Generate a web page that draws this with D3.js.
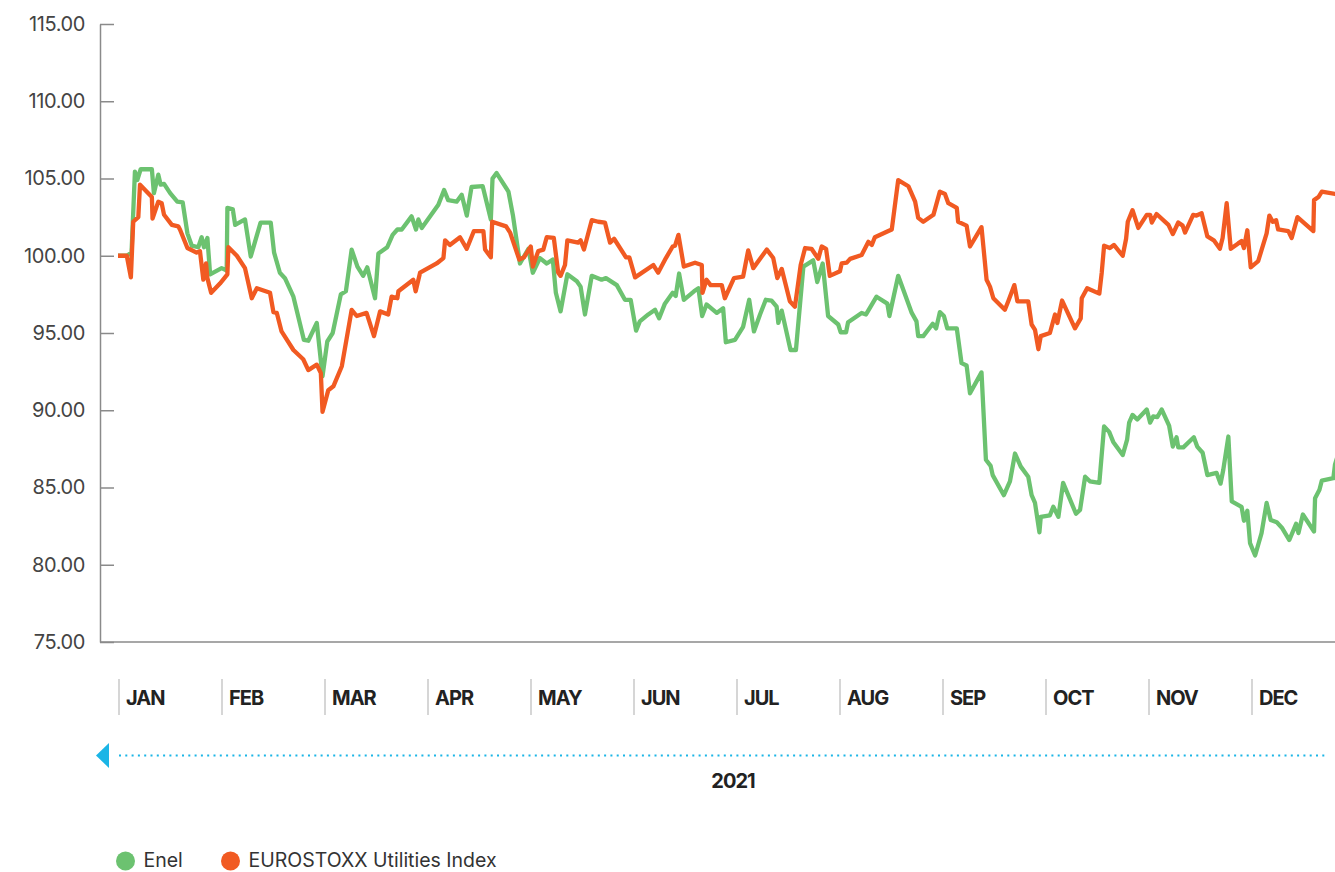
<!DOCTYPE html>
<html>
<head>
<meta charset="utf-8">
<script src="https://cdn.jsdelivr.net/npm/d3@7"></script>
<style>
  body { margin: 0; background: #fff; }
  text { font-family: Inter, "Noto Sans", sans-serif; }
</style>
</head>
<body>
<div id="chart"></div>
<script>
// months shown under the chart
var months = ["JAN","FEB","MAR","APR","MAY","JUN","JUL","AUG","SEP","OCT","NOV","DEC"]
var yTicks = [75,80,85,90,95,100,105,110,115]
var yearLabel = "2021"

// Enel, rebased to 100 (day of year, value)
var enelDays = [0,2.6,4,5,5.7,6.7,10,10.6,11.9,12.6,13.6,15.4,17.5,19.1,20.5,21.8,23.7,24.7,25.4,26.4,27.2,30.6,32.1,32.3,33.9,34.6,37.5,39.2,42.1,45.1,46.1,47.8,49.3,51.8,54.9,56.2,58.7,60.4,61.8,63.4,65.8,67.3,69,70.7,72.4,73.6,75.9,76.9,79.5,81.1,82.5,83.8,86.7,88,88.7,89.7,94.6,96.3,97.5,100,101.5,103,104.4,107.7,110.1,110.6,111.8,115.3,116.6,118.7,121.2,122.5,124.6,126.6,128.4,129.3,130.7,132.7,135.5,136.6,137.9,139.9,142.8,144.1,147.3,149.7,151.4,153,154.1,156.6,158.6,159.8,161.5,163.8,164.7,165.7,167.1,170.1,171.4,172.5,173.8,176.8,178.7,179.5,182.2,184.6,186.4,187.8,189.6,191.3,193,194.5,195,196,198.6,200.2,202.4,205.3,206.5,208.1,209.7,212.7,213.4,215,215.6,219.6,220.9,224,227.2,227.8,230.4,234.4,235.8,236.3,237.8,240.6,241.6,242.7,243.9,244.9,247.7,249.1,250.6,251.6,255,256.3,257.7,258.3,261.6,263.4,264.9,266.6,268.8,269.8,270.8,272.1,272.5,275.2,276.2,277.7,279.1,282.9,284.1,285.6,287,289.8,291.2,292.7,293.9,296.7,298,298.6,299.6,301,303.8,304.8,305.7,306.9,308.2,310.4,311.5,312.6,313.1,314.6,317.7,318.7,320.3,321.7,324.4,325.6,326.4,327.9,328.9,331.8,332.5,333.5,334.3,335.8,337.7,339.2,340.4,342.2,343.7,345.9,347.9,348.6,349.9,353.2,353.5,354.8,355.5,358.9,359.4,361]
var enelValues = [100,100,100.2,105.45,104.9,105.6,105.6,104.05,105.25,104.6,104.65,104.05,103.5,103.45,101.45,100.65,100.55,101.2,100.55,101.15,98.8,99.2,99.05,103.1,103,102,102.35,99.95,102.15,102.15,100.2,98.9,98.55,97.35,94.55,94.5,95.65,92.2,94.45,95,97.5,97.7,100.4,99.3,98.7,99.25,97.25,100.15,100.55,101.35,101.7,101.7,102.55,101.7,102.35,101.8,103.3,104.25,103.6,103.5,103.95,102.6,104.45,104.5,102.35,105,105.35,104.15,102.65,99.5,100.45,98.9,99.85,99.5,99.75,97.6,96.4,98.8,98.35,98,96.2,98.7,98.45,98.55,98.1,97.15,97.15,95.15,95.75,96.2,96.5,95.95,96.9,97.6,97.4,98.85,97.15,97.7,97.9,96.1,96.85,96.3,96.6,94.4,94.55,95.4,97.15,95.1,96.2,97.15,97.1,96.7,95.65,96.45,93.9,93.9,99.3,99.7,98.3,99.5,96.1,95.55,95.05,95.05,95.7,96.3,96.2,97.35,96.9,96.1,98.7,96.3,95.75,94.8,94.8,95.6,95.3,96.35,96.1,95.3,95.3,93.05,92.9,91.1,92.45,86.8,86.4,85.8,84.5,85.4,87.2,86.35,85.7,84.5,84,82.1,83.1,83.2,83.75,83.1,85.3,83.3,83.55,85.7,85.4,85.3,88.95,88.6,87.95,87.1,88.1,89.2,89.7,89.4,90.05,89.2,89.6,89.55,90.05,89,87.65,88.25,87.6,87.6,88.25,87.65,87.25,85.8,85.95,85.25,86.15,88.3,84.1,83.75,82.85,83.5,81.4,80.6,82.05,84,82.9,82.75,82.4,81.6,82.65,82.05,83.25,82.15,84.3,84.85,85.45,85.6,86.5,87.6]

// EUROSTOXX Utilities Index, rebased to 100
var indexDays = [0,2.6,3.8,4.5,6,6.5,10,10.2,11.9,12.9,13.6,15.9,17.8,18.3,20.5,23.2,24.2,25.2,26,26.4,27.5,30.1,32.3,32.6,35.1,37.5,39.5,41,44.9,45.9,46.9,48.3,51.8,54.7,56.2,58.7,59.9,60.4,62.1,63.6,66.1,69,70.5,73.4,75.6,77.4,79.8,80.8,82.5,82.8,87.2,87.9,89.2,94.1,96.1,96.6,98,101,103,105.1,107.9,108.4,110.1,110.5,114.6,115.8,118.5,119.9,121.9,122.5,124.1,125.6,126.6,128.7,130,130.7,132,132.7,135.9,136.6,137.6,139.9,141.8,143.8,145.3,146.5,150,151,152.7,158.1,159.5,161.8,163.8,164.5,165.5,167.1,170.4,172.4,172.6,173.8,175,178.3,179.2,181.9,184.6,186.1,187.6,191.6,193.5,194.7,196,198.4,199.9,201.6,202.9,204.8,206.8,207.8,209.1,210.2,213.2,213.7,215.2,216.2,219.6,221.6,222.6,223.5,227.5,228.5,230.4,233.4,235.4,236.3,237.8,240.8,242.7,244.2,245.2,247.7,248.1,250.6,251.6,255,256.5,257.5,258.5,261.9,262.9,264.7,265.6,268.8,269.8,270.8,271.8,272.5,275.2,276.7,277.4,278.8,282.6,284.3,284.6,286.2,289.8,290.5,291.2,292.9,294.1,296.7,297.7,298.2,299.6,301.3,303.8,304.8,305.3,306.7,310.2,311.5,313.1,314.4,315.1,317.5,318.5,320,321.7,323.6,325.4,326.2,327.4,328.6,330.8,331.8,332.5,333.5,334.5,336.7,339.2,340,341,342,342.6,345.6,346.6,348.3,353,353.2,354.5,355.5,359.4,362]
var indexValues = [100,100,98.6,102.2,102.5,104.6,103.8,102.4,103.5,103.4,102.65,102,101.9,101.7,100.5,100.2,100.3,98.45,99.5,98.55,97.6,98.2,98.8,100.55,100,99.2,97.25,97.9,97.6,96.35,96.3,95.1,93.9,93.3,92.6,92.95,92.4,89.9,91.3,91.55,92.85,96.5,96.1,96.3,94.8,96.4,96.2,97.35,97.25,97.7,98.45,97.7,98.9,99.5,99.85,101,100.7,101.2,100.45,101.6,101.6,100.4,99.9,102.2,101.9,101.5,99.75,99.9,100.6,99.3,100.3,100.4,101.2,101.15,98.9,98.7,99.4,101,100.85,101,100.4,102.3,102.2,102.15,100.85,101.1,99.9,99.9,98.6,99.4,98.9,99.85,100.6,100.65,101.35,99.3,99.55,99.4,97.6,98.45,98.1,98.1,97.25,98.55,98.65,100.35,99.2,100.4,99.85,98.55,99.15,97.05,96.7,99.4,100.5,100.45,99.8,100.6,100.45,98.7,99,99.5,99.55,99.8,100.05,100.9,100.7,101.2,101.6,101.7,104.9,104.5,103.5,102.45,102.2,102.65,104.15,104,103.4,103.1,102.2,101.95,100.6,101.85,98.45,98,97.25,96.5,97.05,98.1,97.05,97.05,95.55,95.2,93.95,94.8,95,96.2,95.65,97.1,95.3,95.95,97.25,97.9,97.55,98.9,100.65,100.5,100.7,100,101.1,102.2,102.95,101.8,102.65,102.65,102.15,102.7,102,101.4,102.15,101.95,101.5,102.65,102.6,102.75,101.25,101,100.45,101.15,103.4,100.45,100.8,100.95,100.5,101.65,99.25,99.65,101.45,102.6,102.2,102.3,101.7,101.6,101.15,102.5,101.6,103.6,103.8,104.15,104,103.9]

var seriesNames = ["Enel","EUROSTOXX Utilities Index"]
var seriesColors = ["#6cc270","#f15a22"]

var width = 1335, height = 872

var svg = d3.select("#chart")
  .append("svg")
    .attr("width", width)
    .attr("height", height)

var x = d3.scaleLinear()
  .domain([0, 365])
  .range([118, 1354])

var y = d3.scaleLinear()
  .domain([75, 115])
  .range([642, 24])

var xMonth = d3.scaleBand()
  .domain(months)
  .range([119, 119 + 12 * 103])

svg.append("defs").append("clipPath").attr("id", "clip")
  .append("rect").attr("x", 100).attr("y", 0).attr("width", width - 100).attr("height", 700)

// y axis, ticks point into the plot
var yAxis = svg.append("g")
  .attr("transform", "translate(100,0)")
  .call(d3.axisLeft(y).tickValues(yTicks).tickFormat(d3.format(".2f"))
    .tickSizeInner(-14).tickSizeOuter(0).tickPadding(15))
yAxis.select(".domain").attr("stroke", "#8a8a8a").attr("stroke-width", 1.5)
yAxis.selectAll(".tick line").attr("stroke", "#8a8a8a").attr("stroke-width", 1.5)
yAxis.selectAll(".tick text")
  .attr("font-size", 20).attr("fill", "#444").style("letter-spacing", "-0.4px")

// bottom line
svg.append("line")
  .attr("x1", 100).attr("x2", width)
  .attr("y1", y(75)).attr("y2", y(75))
  .attr("stroke", "#8a8a8a").attr("stroke-width", 1.5)

// the two lines
var line = d3.line()
  .x(function (d) { return x(d[0]) })
  .y(function (d) { return y(d[1]) })

var enel = d3.zip(enelDays, enelValues)
var index = d3.zip(indexDays, indexValues)

var lines = svg.append("g").attr("clip-path", "url(#clip)")
lines.selectAll("path")
  .data([enel, index])
  .enter()
  .append("path")
    .attr("d", line)
    .attr("fill", "none")
    .attr("stroke", function (d, i) { return seriesColors[i] })
    .attr("stroke-width", 4.3)
    .attr("stroke-linejoin", "round")

// month labels
var monthG = svg.append("g")
monthG.selectAll("line")
  .data(months)
  .enter()
  .append("line")
    .attr("x1", function (d) { return xMonth(d) })
    .attr("x2", function (d) { return xMonth(d) })
    .attr("y1", 679).attr("y2", 715)
    .attr("stroke", "#d6d6d6").attr("stroke-width", 2)
monthG.selectAll("text")
  .data(months)
  .enter()
  .append("text")
    .attr("x", function (d) { return xMonth(d) + 7 })
    .attr("y", 705)
    .attr("font-size", 20)
    .attr("font-weight", "bold")
    .attr("fill", "#222")
    .style("letter-spacing", "-1px")
    .text(function (d) { return d })

// year arrow
svg.append("path")
  .attr("d", "M96,755.5L109,743V768Z")
  .attr("fill", "#1bb5e6")
svg.append("line")
  .attr("x1", 119).attr("x2", 1325)
  .attr("y1", 755.5).attr("y2", 755.5)
  .attr("stroke", "#1bb5e6").attr("stroke-width", 2)
  .attr("stroke-dasharray", "2,4.3")
svg.append("text")
  .attr("x", 733).attr("y", 788)
  .attr("text-anchor", "middle")
  .attr("font-size", 20).attr("font-weight", "bold").attr("fill", "#222")
  .style("letter-spacing", "-1px")
  .text(yearLabel)

// legend
var legendX = [125.5, 230.5]
var legend = svg.append("g")
seriesNames.forEach(function (name, i) {
  legend.append("circle")
    .attr("cx", legendX[i]).attr("cy", 861).attr("r", 9.5)
    .attr("fill", seriesColors[i])
  legend.append("text")
    .attr("x", legendX[i] + 18).attr("y", 867)
    .attr("font-size", 19.5).attr("fill", "#333")
    .text(name)
})
</script>
</body>
</html>
